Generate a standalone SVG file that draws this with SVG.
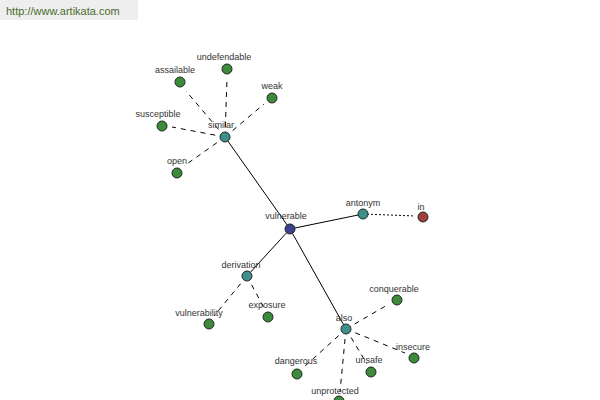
<svg xmlns="http://www.w3.org/2000/svg" width="600" height="400" viewBox="0 0 600 400">
<style>
.n{stroke:#1e2a1e;stroke-width:1}
.g{fill:#3d8a3d}
.t{fill:#3f8f8c}
.b{fill:#3c3f92}
.r{fill:#a0403c}
text{font-family:"Liberation Sans",Arial,sans-serif;font-size:9px;fill:#333;text-anchor:middle}
.s{stroke:#000;stroke-width:1;fill:none}
.d{stroke:#000;stroke-width:1;fill:none;stroke-dasharray:5,5}
.o{stroke:#000;stroke-width:1;fill:none;stroke-dasharray:2,2}
</style>
<rect width="600" height="400" fill="#fff"/>
<rect x="0" y="0" width="138" height="20" fill="#eeeeee"/>
<text x="6" y="15" style="text-anchor:start;font-size:11px;fill:#4b6b2b">http://www.artikata.com</text>
<g id="connectors">
<line class="s" x1="290" y1="229" x2="225" y2="137"/>
<line class="s" x1="290" y1="229" x2="363" y2="214"/>
<line class="s" x1="290" y1="229" x2="247" y2="276"/>
<line class="s" x1="290" y1="229" x2="346" y2="329"/>
<line class="o" x1="363" y1="214" x2="415" y2="216"/>
<line class="d" x1="225" y1="137" x2="227" y2="78"/>
<line class="d" x1="225" y1="137" x2="186" y2="91"/>
<line class="d" x1="225" y1="137" x2="264" y2="104"/>
<line class="d" x1="225" y1="137" x2="172" y2="127"/>
<line class="d" x1="225" y1="137" x2="184" y2="166"/>
<line class="d" x1="247" y1="276" x2="214" y2="316"/>
<line class="d" x1="247" y1="276" x2="264" y2="308"/>
<line class="d" x1="346" y1="329" x2="389" y2="304"/>
<line class="d" x1="346" y1="329" x2="405" y2="353"/>
<line class="d" x1="346" y1="329" x2="367" y2="364"/>
<line class="d" x1="346" y1="329" x2="304" y2="367"/>
<line class="d" x1="346" y1="329" x2="340" y2="392"/>
</g>
<g id="vulnerable"><circle class="n b" cx="290" cy="229" r="5"/><text x="286" y="219">vulnerable</text></g>
<g id="similar"><circle class="n t" cx="225" cy="137" r="5"/><text x="221" y="128">similar</text></g>
<g id="undefendable"><circle class="n g" cx="227" cy="69" r="5"/><text x="224" y="60">undefendable</text></g>
<g id="assailable"><circle class="n g" cx="180" cy="82" r="5"/><text x="175" y="73">assailable</text></g>
<g id="weak"><circle class="n g" cx="272" cy="98" r="5"/><text x="272" y="89">weak</text></g>
<g id="susceptible"><circle class="n g" cx="162" cy="126" r="5"/><text x="158" y="117">susceptible</text></g>
<g id="open"><circle class="n g" cx="177" cy="173" r="5"/><text x="177" y="164">open</text></g>
<g id="antonym"><circle class="n t" cx="363" cy="214" r="5"/><text x="363" y="206">antonym</text></g>
<g id="in"><circle class="n r" cx="423" cy="217" r="5"/><text x="421" y="210">in</text></g>
<g id="derivation"><circle class="n t" cx="247" cy="276" r="5"/><text x="241" y="268">derivation</text></g>
<g id="vulnerability"><circle class="n g" cx="209" cy="324" r="5"/><text x="199" y="316">vulnerability</text></g>
<g id="exposure"><circle class="n g" cx="268" cy="317" r="5"/><text x="267" y="308">exposure</text></g>
<g id="also"><circle class="n t" cx="346" cy="329" r="5"/><text x="344" y="321">also</text></g>
<g id="conquerable"><circle class="n g" cx="397" cy="300" r="5"/><text x="394" y="292">conquerable</text></g>
<g id="insecure"><circle class="n g" cx="414" cy="358" r="5"/><text x="413" y="350">insecure</text></g>
<g id="unsafe"><circle class="n g" cx="371" cy="372" r="5"/><text x="369" y="363">unsafe</text></g>
<g id="dangerous"><circle class="n g" cx="297" cy="374" r="5"/><text x="296" y="364">dangerous</text></g>
<g id="unprotected"><circle class="n g" cx="339" cy="401" r="5"/><text x="335" y="394">unprotected</text></g>
</svg>
